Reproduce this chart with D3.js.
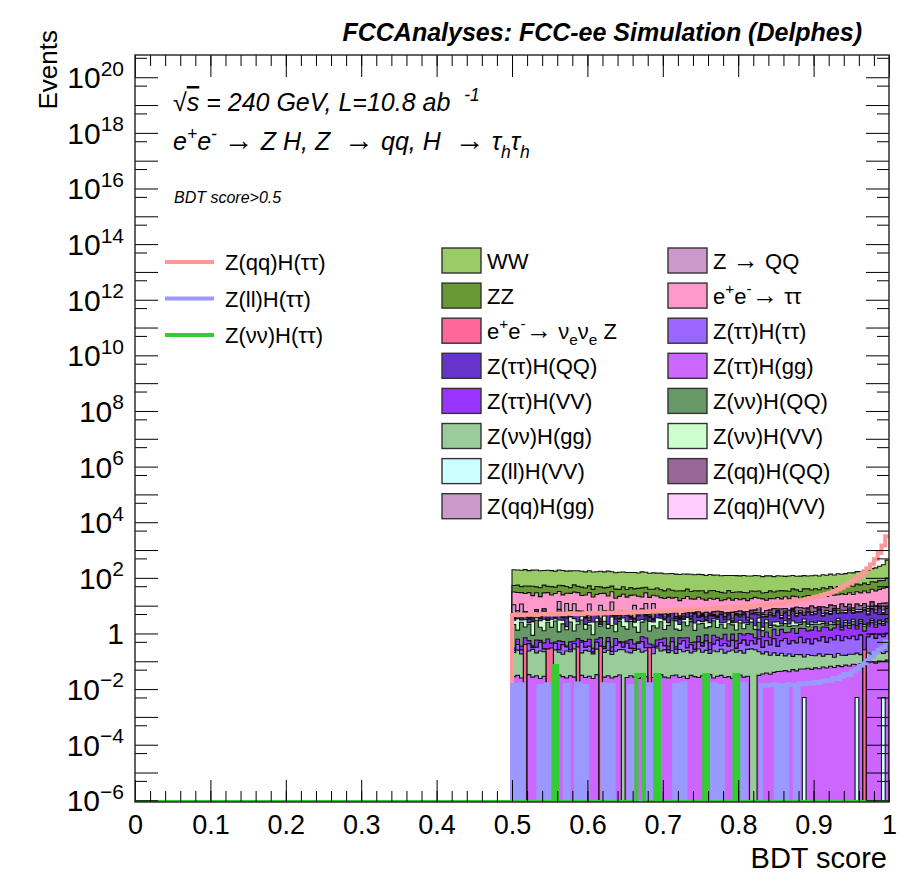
<!DOCTYPE html>
<html lang="en">
<head>
<meta charset="UTF-8">
<title>BDT score stack</title>
<script src="https://cdnjs.cloudflare.com/ajax/libs/d3/7.8.5/d3.min.js"></script>
<style>
  body { margin: 0; background: #fff; }
  svg { display: block; font-family: 'Liberation Sans', Arial, Helvetica, sans-serif; }
  text.pre { white-space: pre; }
</style>
</head>
<body>
<svg id="viz" width="903" height="880"></svg>
<script>
// histogram: 100 bins of width 0.005 between 0.5 and 1 (everything below 0.5 is empty)
const binLow = 0.5, binWidth = 0.005;

// stacked backgrounds, bottom -> top, events per bin
const zllHVV = [0,0,0,0,0,0,0,0,0,0, 0,0,0,0,0,0,0,0,0,0, 0,0,0,0,0,0,0,0,0,0, 0,0,0,0,0,0,0,0,0,0,
  0,0,0,0,0,0,0,0,0,0, 0,0,0,0,0,0,0,0,0,0, 0,0,0,0,0,0,0,0,0,0, 0,0.005,0,0,0,0,0,0.005,0,0,
  0,0,0,0,0,0,0,0,0,0, 0,0.005,0,0,0,0,0,0,0.005,0];
const zttHgg = [0.028,0.031,0.025,0,0.033,0.027,0.030,0.024,0.029,0, 0,0.026,0.032,0.028,0.025,0.030,0.027,0,0.031,0.026,
  0.029,0.024,0.033,0,0.027,0.030,0.025,0.028,0.032,0, 0.026,0.030,0.027,0.024,0.031,0.028,0,0.026,0.029,0.033,
  0.027,0.025,0.030,0.032,0.026,0.029,0.024,0.031,0.028,0.026, 0.030,0.027,0.033,0.025,0.029,0.031,0.026,0.028,0.024,0.030,
  0.032,0.027,0.029,0,0,0.031,0.035,0.038,0.034,0.040, 0.043,0.039,0.046,0.042,0.050,0.045,0.053,0.048,0.056,0.051,
  0.058,0.054,0.062,0.057,0.066,0.060,0.070,0.064,0.073,0.068, 0.078,0.071,0.083,0,0.088,0.094,0.086,0.101,0.095,0.110];
const znnHgg = [0.18,0.22,0.16,0,0.20,0.24,0.17,0.21,0.19,0, 0,0.23,0.18,0.15,0.21,0.19,0.25,0,0.17,0.22,
  0.20,0.16,0.24,0,0.18,0.22,0.15,0.20,0.23,0.26, 0.19,0.17,0.22,0.25,0.18,0.21,0,0.16,0.27,0.20,
  0.23,0.18,0.21,0.16,0.24,0.19,0.22,0.17,0.20,0.25, 0.18,0.22,0.16,0.21,0.19,0.24,0.17,0.20,0.23,0.18,
  0.21,0.17,0.24,0.28,0.26,0.19,0.15,0.18,0.13,0.16, 0.12,0.15,0.11,0.14,0.10,0.13,0.12,0.09,0.12,0.11,
  0.10,0.13,0.09,0.12,0.11,0.08,0.12,0.10,0.09,0.11, 0.10,0.12,0.09,0,0.11,0.08,0.10,0.12,0.09,0.11];
const zttHtt = [0.04,0.15,0.07,0,0.20,0.05,0.12,0.25,0.06,0, 0,0.18,0.05,0.22,0.09,0.04,0.16,0,0.28,0.07,
  0.12,0.03,0.21,0,0.08,0.26,0.05,0.14,0.19,0.06, 0.23,0.09,0.04,0.17,0.30,0.07,0,0.13,0.05,0.24,
  0.10,0.05,0.27,0.08,0.15,0.33,0.06,0.19,0.04,0.22, 0.14,0.29,0.07,0.18,0.35,0.09,0.24,0.12,0.31,0.08,
  0.20,0.38,0.11,0.27,0.16,0.42,0.13,0.33,0.22,0.45, 0.18,0.36,0.50,0.24,0.40,0.28,0.55,0.32,0.46,0.26,
  0.48,0.35,0.60,0.30,0.52,0.44,0.65,0.38,0.58,0.47, 0.62,0.40,0.70,0,0.55,0.75,0.48,0.68,0.57,0.80];
const eeNuNuZ = [0,0,0,0.40,0,0,0,0,0,0.28, 0.30,0,0,0,0,0,0,0.33,0,0, 0,0,0,0.35,0,0,0,0,0,0,
  0,0,0,0,0,0,0.31,0,0,0, 0,0,0,0,0,0,0,0,0,0, 0,0,0,0,0,0,0,0,0,0, 0,0,0,0,0,0,0,0,0,0,
  0,0,0,0,0,0,0,0,0,0, 0,0,0,0,0,0,0,0,0,0, 0,0,0,0.26,0,0,0,0,0,0];
const zttHVV = [0.05,0.22,0.09,0.30,0.12,0.04,0.26,0.08,0.18,0.35, 0.15,0.06,0.28,0.11,0.03,0.24,0.09,0.32,0.07,0.20,
  0.27,0.08,0.14,0.36,0.05,0.21,0.10,0.29,0.06,0.17, 0.09,0.31,0.13,0.05,0.25,0.38,0.11,0.07,0.23,0.15,
  0.33,0.10,0.19,0.06,0.28,0.14,0.40,0.08,0.22,0.30, 0.12,0.35,0.20,0.45,0.16,0.28,0.50,0.19,0.38,0.25,
  0.55,0.30,0.62,0.40,0.28,0.70,0.45,0.58,0.35,0.75, 0.50,0.85,0.42,0.68,0.95,0.55,0.80,1.05,0.60,0.90,
  1.10,0.70,0.95,1.20,0.65,1.00,1.30,0.80,1.15,0.90, 1.25,0.85,1.40,0.95,1.10,1.50,1.00,1.35,1.20,1.60];
const znnHQQ = [1.8,0.7,2.2,1.0,1.6,0.5,2.4,1.1,0.8,1.9, 1.2,2.3,0.6,1.7,1.0,2.1,0.7,1.5,2.5,0.9,
  1.4,0.6,2.0,1.1,2.4,0.8,1.6,0.5,2.2,1.3, 0.9,2.1,1.3,0.6,1.8,2.4,0.8,1.5,1.0,2.0,
  0.7,1.6,2.3,1.1,0.6,1.9,1.2,2.2,0.8,1.4, 1.8,0.7,1.3,2.0,0.9,1.5,0.6,1.7,1.1,0.8,
  1.4,0.6,1.1,1.6,0.7,1.2,0.5,1.3,0.9,0.6, 1.0,0.5,1.2,0.7,0.4,0.9,0.6,1.1,0.5,0.8,
  0.4,0.9,0.6,0.3,0.8,0.5,0.7,0.3,0.6,0.4, 0.7,0.3,0.5,0.6,0.3,0.5,0.4,0.6,0.3,0.5];
const znnHVV = [0.9,2.1,0.5,1.4,0.3,1.8,0.7,1.2,2.0,0.4, 1.6,0.6,1.9,0.8,0.4,1.3,2.2,0.5,1.1,0.7,
  0.5,1.7,0.9,0.3,1.5,0.6,2.0,1.0,0.4,1.8, 1.2,0.4,0.8,1.9,0.6,0.3,1.5,0.7,2.1,0.9,
  1.7,0.5,0.3,1.4,0.8,0.6,1.9,0.4,1.1,0.7, 0.4,1.3,0.7,0.5,1.6,0.3,1.0,0.8,0.4,1.2,
  0.6,0.9,0.3,0.8,0.5,1.1,0.4,0.7,0.3,0.6, 0.8,0.3,0.6,0.4,0.9,0.5,0.3,0.7,0.4,0.5,
  0.3,0.6,0.4,0.2,0.5,0.3,0.6,0.2,0.4,0.3, 0.5,0.2,0.4,0.3,0.2,0.4,0.3,0.2,0.4,0.3];
const zttHQQ = [0.5,1.6,0.3,2.4,0.8,0.4,1.9,0.6,2.6,0.3, 1.3,0.4,2.2,0.7,1.8,0.3,1.1,2.5,0.5,1.4,
  0.4,2.0,0.8,0.3,1.6,2.7,0.5,1.2,0.3,2.1, 1.7,0.5,0.3,1.3,2.4,0.6,1.0,0.4,1.9,0.7,
  0.3,1.5,2.2,0.6,1.1,0.4,1.8,0.5,2.6,0.9, 1.4,0.4,1.9,0.8,0.5,2.3,0.7,1.6,0.4,2.0,
  0.9,2.4,0.6,1.7,3.0,1.0,2.2,0.8,2.8,1.4, 3.2,1.2,2.6,0.9,3.5,1.8,2.9,1.1,3.8,2.0,
  2.6,4.1,1.5,3.3,2.2,4.4,1.8,3.7,2.5,4.6, 2.0,3.9,2.8,4.8,2.3,4.2,3.1,5.0,2.7,4.5];
const zqqHgg = [0.3,0.2,0.4,0.3,0.2,0.3,0.4,0.2,0.3,0.3, 0.2,0.4,0.3,0.2,0.3,0.4,0.2,0.3,0.3,0.2,
  0.4,0.3,0.2,0.3,0.4,0.2,0.3,0.3,0.2,0.4, 0.3,0.2,0.3,0.4,0.2,0.3,0.3,0.2,0.4,0.3,
  0.2,0.3,0.4,0.2,0.3,0.3,0.2,0.4,0.3,0.2, 0.3,0.4,0.2,0.3,0.3,0.2,0.4,0.3,0.2,0.3,
  0.4,0.2,0.3,0.3,0.2,0.4,0.3,0.2,0.3,0.4, 0.2,0.3,0.3,0.4,0.2,0.3,0.4,0.3,0.2,0.3,
  0.3,0.4,0.2,0.3,0.4,0.3,0.2,0.4,0.3,0.3, 0.4,0.3,0.3,0.2,0.4,0.3,0.4,0.3,0.3,0.4];
const zqqHVV = [0.2,0.3,0.2,0.2,0.3,0.2,0.3,0.2,0.2,0.3, 0.2,0.2,0.3,0.2,0.3,0.2,0.2,0.3,0.2,0.3,
  0.3,0.2,0.2,0.3,0.2,0.3,0.2,0.3,0.3,0.2, 0.2,0.3,0.3,0.2,0.3,0.2,0.3,0.3,0.2,0.3,
  0.3,0.3,0.2,0.4,0.3,0.3,0.4,0.3,0.4,0.3, 0.4,0.3,0.4,0.4,0.3,0.5,0.4,0.4,0.5,0.4,
  0.5,0.4,0.5,0.6,0.5,0.5,0.6,0.5,0.7,0.6, 0.6,0.7,0.6,0.8,0.7,0.7,0.8,0.7,0.9,0.8,
  0.8,0.9,0.8,1.0,0.9,0.9,1.0,0.9,1.1,1.0, 1.0,1.1,1.0,1.2,1.1,1.1,1.2,1.1,1.3,1.2];
const zqqHQQ = [0.3,1.2,0.5,0.2,1.6,0.4,0.9,0.2,1.4,0.6, 0.2,0.8,1.5,0.3,0.6,1.8,0.3,0.7,1.1,0.2,
  0.9,0.3,1.4,0.5,0.2,1.0,1.7,0.4,0.6,0.3, 0.4,1.3,0.2,0.8,1.5,0.3,0.6,1.9,0.2,0.7,
  1.1,0.3,0.5,1.6,0.4,0.9,0.2,1.2,0.5,1.7, 0.5,1.8,0.4,1.1,2.0,0.6,1.4,0.3,2.2,0.8,
  1.6,0.5,2.4,0.9,1.3,3.0,0.7,2.1,1.2,2.8, 0.9,3.2,1.5,2.5,0.8,3.6,1.9,2.7,1.1,4.0,
  2.2,1.0,3.8,1.6,4.3,2.0,1.3,4.6,2.4,3.1, 1.5,4.2,2.6,3.4,1.8,4.8,2.9,2.2,5.2,3.0];
const zToQQ = [6.5,0,7.0,0,0,0,0,0,0,0, 0,0,6.8,0,7.2,0,6.5,0,0,0, 7.0,0,0,6.8,0,0,6.9,0,0,0,
  0,0,6.6,0,0,7.1,0,6.4,0,0, 0,0,0,0,0,0,0,0,0,0, 0,0,0,0,0,0,0,0,0,0, 0,0,0,0,0,0,0,0,0,0,
  0,0,0,0,0,0,0,0,0,0, 0,0,0,0,0,0,0,0,0,0, 0,0,0,0,0,0,0,0,0,0];
const eeTauTau = [20,23,18,21,24,19,22,17,21,25, 19,22,18,20,16,21,19,23,17,20,
  18,15,19,17,21,16,18,14,17,19, 15,18,14,16,13,17,15,12,16,14,
  13,15,12,14,11,13,15,12,11,14, 12,10,13,11,12,9,11,13,10,12,
  10,12,9,11,13,10,12,9,11,10, 12,10,13,11,14,12,10,13,15,12,
  14,12,15,13,16,14,17,15,16,18, 17,20,19,22,21,25,24,27,30,33];
const zz = [22,25,19,24,21,27,18,23,26,20, 24,19,22,28,21,17,25,20,23,19,
  22,18,24,20,16,23,19,21,17,22, 18,21,16,20,23,17,19,15,21,18,
  16,20,17,14,19,16,18,15,17,14, 17,13,16,18,14,15,12,16,14,13,
  15,12,14,16,13,15,11,14,16,13, 14,17,13,15,18,16,14,19,17,15,
  18,16,20,19,22,18,24,21,23,26, 25,28,27,31,29,34,36,41,38,52];
const ww = [142,136,140,147,132,139,144,135,130,138, 134,128,137,131,126,133,124,130,127,121,
  128,123,117,125,120,129,116,113,121,115, 118,111,116,108,120,113,107,112,104,110,
  106,101,108,103,98,104,97,102,95,99, 96,92,98,90,95,89,93,87,91,89,
  86,91,87,83,89,85,82,88,84,80, 85,82,79,84,81,78,83,80,77,82,
  84,80,86,83,88,85,91,88,94,97, 101,108,113,122,131,142,158,182,215,335];

// signals, drawn as lines
const zqqHtt = [4.6,4.9,4.5,4.8,4.7,5.0,4.6,4.9,5.1,4.8, 5.0,4.8,5.2,4.9,5.1,5.3,5.0,5.2,4.9,5.3,
  5.4,5.1,5.5,5.2,5.6,5.3,5.7,5.4,5.8,5.5, 5.9,5.6,6.0,5.8,6.2,5.9,6.3,6.1,6.5,6.2,
  6.6,6.4,6.8,6.5,7.0,6.7,7.2,7.0,7.4,7.6, 7.5,7.9,7.7,8.1,8.0,8.4,8.2,8.7,8.5,9.0,
  8.9,9.3,9.2,9.7,9.6,10.1,10.4,10.3,10.9,11.3, 11.6,12.2,12.6,13.3,13.9,14.6,15.5,16.4,17.6,18.9,
  20.5,22,24,26,29,33,38,44,52,62, 78,98,125,160,220,310,470,780,1450,3100];
const zllHtt = [0.014,0,0.015,0,0,0,0,0.013,0,0.015, 0,0,0,0,0.014,0,0,0.016,0,0.013,
  0,0,0,0,0.015,0,0.014,0,0,0, 0,0.013,0,0,0,0,0.015,0,0.014,0,
  0,0,0,0.014,0,0.016,0,0,0,0, 0,0,0,0.015,0,0.013,0,0,0,0.014,
  0,0.015,0,0,0,0,0.014,0.013,0.014,0.015, 0,0.014,0,0.015,0.014,0,0.016,0.015,0.017,0.016,
  0.018,0.017,0.019,0.021,0.020,0.025,0.023,0.028,0.035,0.032, 0.045,0.052,0.070,0.085,0.11,0.15,0.20,0.26,0.32,0.50];
const znnHtt = [0,0,0,0,0,0,0,0,0,0, 0,0.068,0,0,0,0,0,0,0,0, 0,0,0,0,0,0,0,0,0,0,
  0,0,0,0.032,0.032,0,0,0,0.032,0, 0,0,0,0,0,0,0,0,0,0, 0,0.032,0,0,0,0,0,0,0,0.032,
  0,0,0,0,0,0,0,0,0,0, 0,0,0,0,0,0,0,0,0,0, 0,0,0,0,0,0,0,0,0,0, 0,0,0,0,0,0,0,0,0,0];

const stackNames = ['Z(ll)H(VV)', 'Z(ττ)H(gg)', 'Z(νν)H(gg)', 'Z(ττ)H(ττ)', 'ee→νeνeZ', 'Z(ττ)H(VV)',
  'Z(νν)H(QQ)', 'Z(νν)H(VV)', 'Z(ττ)H(QQ)', 'Z(qq)H(gg)', 'Z(qq)H(VV)', 'Z(qq)H(QQ)', 'Z→QQ', 'ee→ττ', 'ZZ', 'WW'];
const stackValues = [zllHVV, zttHgg, znnHgg, zttHtt, eeNuNuZ, zttHVV, znnHQQ, znnHVV, zttHQQ,
  zqqHgg, zqqHVV, zqqHQQ, zToQQ, eeTauTau, zz, ww];
const stackColors = ['#ccffff', '#cc66ff', '#99cc99', '#9966ff', '#ff6699', '#9933ff',
  '#669966', '#ccffcc', '#6633cc', '#cc99cc', '#ffccff', '#996699', '#cc99cc', '#ff99cc', '#669933', '#99cc66'];

const signalNames = ['Z(qq)H(ττ)', 'Z(ll)H(ττ)', 'Z(νν)H(ττ)'];
const signalValues = [zqqHtt, zllHtt, znnHtt];
const signalColors = ['#ff9999', '#9999ff', '#33cc33'];

// legend rows (two columns, filled row by row)
const legendOrder = ['WW', 'Z→QQ', 'ZZ', 'ee→ττ', 'ee→νeνeZ', 'Z(ττ)H(ττ)', 'Z(ττ)H(QQ)', 'Z(ττ)H(gg)',
  'Z(ττ)H(VV)', 'Z(νν)H(QQ)', 'Z(νν)H(gg)', 'Z(νν)H(VV)', 'Z(ll)H(VV)', 'Z(qq)H(QQ)', 'Z(qq)H(gg)', 'Z(qq)H(VV)'];
const legendText = {
  'Z→QQ': [['Z '], ['\u2192', 'up'], [' QQ']],
  'ee→ττ': [['e'], ['+', 'sup'], ['e'], ['-', 'sup'], ['\u2192', 'up'], [' ττ']],
  'ee→νeνeZ': [['e'], ['+', 'sup'], ['e'], ['-', 'sup'], ['\u2192', 'up'], [' ν'], ['e', 'sub'], ['ν'], ['e', 'sub'], [' Z']]
};

const xTicks = [0, 0.1, 0.2, 0.3, 0.4, 0.5, 0.6, 0.7, 0.8, 0.9, 1];
const xTickLabels = ['0', '0.1', '0.2', '0.3', '0.4', '0.5', '0.6', '0.7', '0.8', '0.9', '1'];
const yLabelExps = [-6, -4, -2, 0, 2, 4, 6, 8, 10, 12, 14, 16, 18, 20];

const fL = 135, fR = 889, fT = 55, fB = 802;
const svg = d3.select('#viz');

const x = d3.scaleLinear().domain([0, 1]).range([fL, fR]);
const y = d3.scaleLog().domain([Math.pow(10, -6.06), Math.pow(10, 20.8)]).range([fB, fT]);
const yMin = y.domain()[0];
const yv = v => y(Math.max(v, yMin));

svg.append('clipPath').attr('id', 'frame')
  .append('rect').attr('x', fL).attr('y', fT).attr('width', fR - fL).attr('height', fB - fT);
const plot = svg.append('g').attr('clip-path', 'url(#frame)');

// cumulative stack
const rows = d3.range(100).map(i => {
  const r = { lo: binLow + i * binWidth };
  stackNames.forEach((n, k) => { r[n] = stackValues[k][i]; });
  return r;
});
const layers = d3.stack().keys(stackNames)(rows);
const area = d3.area().curve(d3.curveStepAfter)
  .x(d => x(d.lo)).y0(fB).y1(d => yv(d.top));

layers.slice().reverse().forEach(layer => {
  const pts = layer.map(d => ({ lo: d.data.lo, top: d[1] }));
  pts.push({ lo: 1, top: pts[pts.length - 1].top });
  plot.append('path')
    .attr('d', area(pts))
    .attr('fill', stackColors[layer.index])
    .attr('stroke', '#111')
    .attr('stroke-width', 1.1);
});

// signal lines
const line = d3.line().curve(d3.curveStepAfter).x(d => x(d.lo)).y(d => yv(d.v));
signalValues.forEach((vals, k) => {
  const pts = [{ lo: 0, v: 0 }].concat(vals.map((v, i) => ({ lo: binLow + i * binWidth, v })));
  pts.push({ lo: 1, v: vals[vals.length - 1] });
  plot.append('path')
    .attr('d', line(pts))
    .attr('fill', 'none')
    .attr('stroke', signalColors[k])
    .attr('stroke-width', 4);
});

// frame + ticks on all sides
const xMinor = d3.range(0, 1.0001, 0.02);
const yMajor = d3.range(-6, 21).map(e => Math.pow(10, e));
const yMinor = d3.range(-6, 21).map(e => 5 * Math.pow(10, e)).filter(v => v < y.domain()[1]);

function ticks(axis, tr) {
  svg.append('g').attr('transform', tr).call(axis)
    .call(g => g.select('.domain').remove())
    .call(g => g.selectAll('line').attr('stroke', '#000'));
}
ticks(d3.axisBottom(x).tickValues(xMinor).tickSize(-11).tickFormat(''), `translate(0,${fB})`);
ticks(d3.axisTop(x).tickValues(xMinor).tickSize(-11).tickFormat(''), `translate(0,${fT})`);
ticks(d3.axisTop(x).tickValues(xTicks).tickSize(-22).tickFormat(''), `translate(0,${fT})`);
ticks(d3.axisLeft(y).tickValues(yMinor).tickSize(-12).tickFormat(''), `translate(${fL},0)`);
ticks(d3.axisLeft(y).tickValues(yMajor).tickSize(-23).tickFormat(''), `translate(${fL},0)`);
ticks(d3.axisRight(y).tickValues(yMinor).tickSize(-12).tickFormat(''), `translate(${fR},0)`);
ticks(d3.axisRight(y).tickValues(yMajor).tickSize(-23).tickFormat(''), `translate(${fR},0)`);

const xAxis = svg.append('g').attr('transform', `translate(0,${fB})`)
  .call(d3.axisBottom(x).tickValues(xTicks).tickSize(-22).tickPadding(13)
    .tickFormat((d, i) => xTickLabels[i]));
xAxis.select('.domain').remove();
xAxis.selectAll('line').attr('stroke', '#000');
xAxis.selectAll('text').attr('font-size', 27).attr('fill', '#000')
  .attr('font-family', "'Liberation Sans', Arial, sans-serif");

svg.append('rect').attr('x', fL).attr('y', fT).attr('width', fR - fL).attr('height', fB - fT)
  .attr('fill', 'none').attr('stroke', '#222').attr('stroke-width', 1.4);

// rich text helper: parts are [text, 'sup'|'sub'|'over'|'up'|undefined]
function rich(t, parts, size) {
  let off = 0;
  parts.forEach(([s, k]) => {
    const target = k === 'sup' ? -0.42 * size : k === 'sub' ? 0.3 * size : 0;
    const fs = (k === 'sup' || k === 'sub') ? size * 0.7 : k === 'up' ? size * 1.2 : size;
    const ts = t.append('tspan').attr('dy', target - off).attr('font-size', fs).text(s);
    if (k === 'over') ts.style('text-decoration', 'overline');
    if (k === 'up') ts.attr('font-style', 'normal');
    off = target;
  });
  return t;
}

// y labels
yLabelExps.forEach(e => {
  const t = svg.append('text').attr('x', 124).attr('y', y(Math.pow(10, e)) + 11)
    .attr('text-anchor', 'end').attr('font-size', 30);
  if (e === 0) t.text('1');
  else rich(t, [['10'], [e < 0 ? '\u2212' + (-e) : String(e), 'sup']], 30);
});

svg.append('text').attr('transform', 'translate(57,30) rotate(-90)')
  .attr('text-anchor', 'end').attr('font-size', 26).text('Events');
svg.append('text').attr('x', 887).attr('y', 868).attr('text-anchor', 'end')
  .attr('font-size', 29).text('BDT score');

svg.append('text').attr('x', 862).attr('y', 41).attr('text-anchor', 'end')
  .attr('font-size', 25).attr('font-weight', 'bold').attr('font-style', 'italic')
  .text('FCCAnalyses: FCC-ee Simulation (Delphes)');

rich(svg.append('text').attr('class', 'pre').attr('x', 173).attr('y', 111).attr('font-style', 'italic'),
  [['\u221A'], ['s', 'over'], [' = 240 GeV, L=10.8 ab  '], ['-1', 'sup']], 25);
rich(svg.append('text').attr('class', 'pre').attr('x', 173).attr('y', 150).attr('font-style', 'italic'),
  [['e'], ['+', 'sup'], ['e'], ['-', 'sup'], [' '], ['\u2192', 'up'], [' Z H, Z  '], ['\u2192', 'up'],
   [' qq, H  '], ['\u2192', 'up'], [' \u03C4'], ['h', 'sub'], ['\u03C4'], ['h', 'sub']], 25);
svg.append('text').attr('x', 174).attr('y', 203).attr('font-style', 'italic')
  .attr('font-size', 16).text('BDT score>0.5');

// signal legend
signalNames.forEach((n, k) => {
  const cy = 262 + k * 36.5;
  svg.append('line').attr('x1', 165).attr('x2', 214).attr('y1', cy).attr('y2', cy)
    .attr('stroke', signalColors[k]).attr('stroke-width', 4);
  svg.append('text').attr('x', 225).attr('y', cy + 8).attr('font-size', 22).text(n);
});

// background legend
legendOrder.forEach((n, k) => {
  const col = k % 2, row = Math.floor(k / 2);
  const cy = 260.5 + row * 35.1;
  const bx = col === 0 ? 442 : 668;
  svg.append('rect').attr('x', bx).attr('y', cy - 12.5).attr('width', 39).attr('height', 25)
    .attr('fill', stackColors[stackNames.indexOf(n)]).attr('stroke', '#333').attr('stroke-width', 1.4);
  const t = svg.append('text').attr('class', 'pre').attr('x', bx + 45).attr('y', cy + 8).attr('font-size', 22);
  if (legendText[n]) rich(t, legendText[n], 22);
  else t.text(n);
});
</script>
</body>
</html>
